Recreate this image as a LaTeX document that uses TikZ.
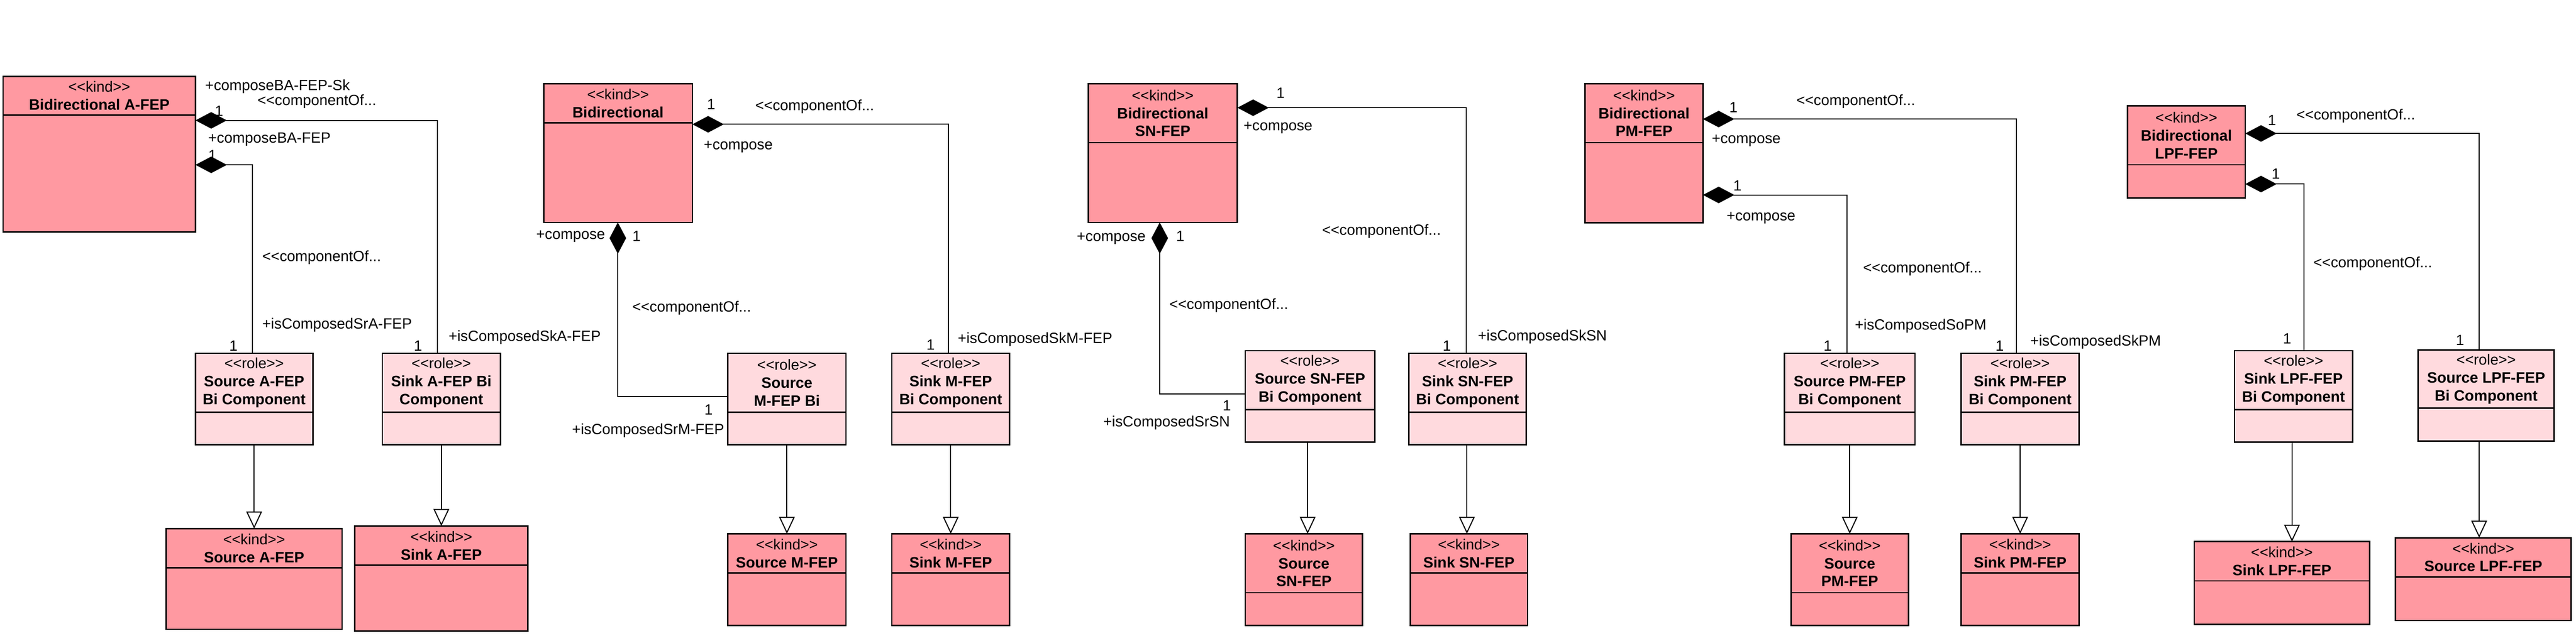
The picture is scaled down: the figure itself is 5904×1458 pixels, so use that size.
\documentclass[tikz,border=0pt]{standalone}
\usepackage{fontspec}
\setmainfont{Liberation Sans}[Ligatures=TeXOff]
\usetikzlibrary{arrows.meta}
\definecolor{kindfill}{RGB}{255,153,161}
\definecolor{rolefill}{RGB}{255,218,222}
\newcommand\bt[1]{{\fontsize{34.5}{41}\selectfont\bfseries #1}}
% #1 name, #2 x1, #3 y1, #4 x2, #5 y2, #6 header y, #7 style, #8 text
\newcommand\umlbox[8]{%
  \node[#7, anchor=north west, minimum width={(#4-#2)*1pt}, minimum height={(#5-#3)*1pt}] (#1) at (#2,#3) {};
  \draw[boxline] (#1.west |- 0,#6) -- (#1.east |- 0,#6);
  \node[boxtext] (#1-t) at ({(#2+#4)/2},{(#3+#6)/2}) {#8};
}
\begin{document}
\begin{tikzpicture}[x=1pt,y=-1pt,
  boxline/.style={line width=3.2pt, black},
  kindbox/.style={draw=black, line width=3.2pt, fill=kindfill, outer sep=0pt, inner sep=0pt},
  rolebox/.style={draw=black, line width=3.2pt, fill=rolefill, outer sep=0pt, inner sep=0pt},
  boxtext/.style={align=center, inner sep=0pt, font=\fontsize{34}{41}\selectfont},
  lbl/.style={inner sep=0pt, font=\fontsize{34}{40}\selectfont},
  conn/.style={line width=2.4pt, black},
  comp/.style={conn, arrows={Diamond[length=72pt,width=38pt]-}},
  gen/.style={conn, arrows={-Triangle[open,length=39pt,width=36pt,fill=white]}}
]
\fill[white] (0,0) rectangle (5904,1458);
\useasboundingbox (0,0) rectangle (5904,1458);

% ---------------- Group 1: A-FEP ----------------
\umlbox{bidirA}{7}{175}{448}{532}{264}{kindbox}{<<kind>>\\\bt{Bidirectional A-FEP}}
\umlbox{roleSrA}{448}{810}{717}{1020}{945}{rolebox}{<<role>>\\\bt{Source A-FEP}\\\bt{Bi Component}}
\umlbox{roleSkA}{876}{810}{1147}{1020}{945}{rolebox}{<<role>>\\\bt{Sink A-FEP Bi}\\\bt{Component}}
\umlbox{kindSrA}{381}{1212}{784}{1443}{1302}{kindbox}{<<kind>>\\\bt{Source A-FEP}}
\umlbox{kindSkA}{813}{1206}{1210}{1447}{1296}{kindbox}{<<kind>>\\\bt{Sink A-FEP}}
\draw[comp] (bidirA.east |- 0,276) -| (roleSkA.north -| 1002,0);
\draw[comp] (bidirA.east |- 0,378) -| (roleSrA.north -| 579,0);
\draw[gen] (roleSrA.south) -- (kindSrA.north);
\draw[gen] (roleSkA.south) -- (kindSkA.north);
\node[lbl, anchor=west] (a1) at (470,199) {+composeBA-FEP-Sk};
\node[lbl, anchor=west] (a2) at (590,233) {<<componentOf...};
\node[lbl] (a3) at (502,254) {1};
\node[lbl, anchor=west] (a4) at (477,319) {+composeBA-FEP};
\node[lbl] (a5) at (487,356) {1};
\node[lbl, anchor=west] (a6) at (601,590) {<<componentOf...};
\node[lbl, anchor=west] (a7) at (601,745) {+isComposedSrA-FEP};
\node[lbl] (a8) at (535,793) {1};
\node[lbl, anchor=west] (a9) at (1028,773) {+isComposedSkA-FEP};
\node[lbl] (a10) at (958,793) {1};

% ---------------- Group 2: M-FEP ----------------
\umlbox{bidirM}{1246}{192}{1587}{510}{282}{kindbox}{<<kind>>\\\bt{Bidirectional}}
\umlbox{roleSrM}{1668}{810}{1939}{1020}{945}{rolebox}{<<role>>\\\bt{Source}\\\bt{M-FEP Bi}}
\umlbox{roleSkM}{2044}{810}{2314}{1020}{945}{rolebox}{<<role>>\\\bt{Sink M-FEP}\\\bt{Bi Component}}
\umlbox{kindSrM}{1668}{1224}{1939}{1434}{1314}{kindbox}{<<kind>>\\\bt{Source M-FEP}}
\umlbox{kindSkM}{2044}{1224}{2314}{1434}{1314}{kindbox}{<<kind>>\\\bt{Sink M-FEP}}
\draw[comp] (bidirM.east |- 0,285) -| (roleSkM.north -| 2174,0);
\draw[comp] (bidirM.south -| 1416,0) |- (roleSrM.west |- 0,909);
\draw[gen] (roleSrM.south) -- (kindSrM.north);
\draw[gen] (roleSkM.south) -- (kindSkM.north);
\node[lbl] (m1) at (1630,239) {1};
\node[lbl, anchor=west] (m2) at (1731,245) {<<componentOf...};
\node[lbl, anchor=west] (m3) at (1613,337) {+compose};
\node[lbl, anchor=east] (m4) at (1387,542) {+compose};
\node[lbl] (m5) at (1459,542) {1};
\node[lbl, anchor=west] (m6) at (1449,706) {<<componentOf...};
\node[lbl] (m7) at (1624,939) {1};
\node[lbl, anchor=east] (m8) at (1660,987) {+isComposedSrM-FEP};
\node[lbl] (m9) at (2133,791) {1};
\node[lbl, anchor=west] (m10) at (2195,778) {+isComposedSkM-FEP};

% ---------------- Group 3: SN-FEP ----------------
\umlbox{bidirSN}{2494}{192}{2836}{510}{327}{kindbox}{<<kind>>\\\bt{Bidirectional}\\\bt{SN-FEP}}
\umlbox{roleSrSN}{2854}{804}{3151}{1014}{939}{rolebox}{<<role>>\\\bt{Source SN-FEP}\\\bt{Bi Component}}
\umlbox{roleSkSN}{3229}{810}{3498}{1020}{945}{rolebox}{<<role>>\\\bt{Sink SN-FEP}\\\bt{Bi Component}}
\umlbox{kindSrSN}{2854}{1224}{3123}{1434}{1359}{kindbox}{<<kind>>\\\bt{Source}\\\bt{SN-FEP}}
\umlbox{kindSkSN}{3232}{1224}{3501}{1434}{1314}{kindbox}{<<kind>>\\\bt{Sink SN-FEP}}
\draw[comp] (bidirSN.east |- 0,247) -| (roleSkSN.north -| 3360,0);
\draw[comp] (bidirSN.south -| 2658,0) |- (roleSrSN.west |- 0,903);
\draw[gen] (roleSrSN.south -| 2997,0) -- (kindSrSN.north -| 2997,0);
\draw[gen] (roleSkSN.south -| 3362,0) -- (kindSkSN.north -| 3362,0);
\node[lbl] (s1) at (2935,213) {1};
\node[lbl, anchor=west] (s2) at (2850,293) {+compose};
\node[lbl, anchor=west] (s3) at (3030,530) {<<componentOf...};
\node[lbl, anchor=east] (s4) at (2626,547) {+compose};
\node[lbl] (s5) at (2705,541) {1};
\node[lbl, anchor=west] (s6) at (2680,700) {<<componentOf...};
\node[lbl, anchor=west] (s7) at (3387,772) {+isComposedSkSN};
\node[lbl] (s8) at (3316,793) {1};
\node[lbl] (s9) at (2812,930) {1};
\node[lbl, anchor=east] (s10) at (2819,970) {+isComposedSrSN};

% ---------------- Group 4: PM-FEP ----------------
\umlbox{bidirPM}{3633}{192}{3903}{511}{327}{kindbox}{<<kind>>\\\bt{Bidirectional}\\\bt{PM-FEP}}
\umlbox{roleSrPM}{4090}{810}{4389}{1020}{945}{rolebox}{<<role>>\\\bt{Source PM-FEP}\\\bt{Bi Component}}
\umlbox{roleSkPM}{4495}{810}{4765}{1020}{945}{rolebox}{<<role>>\\\bt{Sink PM-FEP}\\\bt{Bi Component}}
\umlbox{kindSrPM}{4105}{1224}{4374}{1434}{1359}{kindbox}{<<kind>>\\\bt{Source}\\\bt{PM-FEP}}
\umlbox{kindSkPM}{4495}{1224}{4765}{1434}{1314}{kindbox}{<<kind>>\\\bt{Sink PM-FEP}}
\draw[comp] (bidirPM.east |- 0,273) -| (roleSkPM.north -| 4622,0);
\draw[comp] (bidirPM.east |- 0,447) -| (roleSrPM.north -| 4233,0);
\draw[gen] (roleSrPM.south) -- (kindSrPM.north);
\draw[gen] (roleSkPM.south) -- (kindSkPM.north);
\node[lbl] (p1) at (3973,246) {1};
\node[lbl, anchor=west] (p2) at (4117,233) {<<componentOf...};
\node[lbl, anchor=west] (p3) at (3923,323) {+compose};
\node[lbl] (p4) at (3982,426) {1};
\node[lbl, anchor=west] (p5) at (3957,500) {+compose};
\node[lbl, anchor=west] (p6) at (4270,616) {<<componentOf...};
\node[lbl, anchor=west] (p7) at (4251,747) {+isComposedSoPM};
\node[lbl] (p8) at (4189,793) {1};
\node[lbl] (p9) at (4583,793) {1};
\node[lbl, anchor=west] (p10) at (4653,784) {+isComposedSkPM};

% ---------------- Group 5: LPF-FEP ----------------
\umlbox{bidirLPF}{4876}{243}{5146}{454}{378}{kindbox}{<<kind>>\\\bt{Bidirectional}\\\bt{LPF-FEP}}
\umlbox{roleSkLPF}{5121}{804}{5392}{1014}{939}{rolebox}{<<role>>\\\bt{Sink LPF-FEP}\\\bt{Bi Component}}
\umlbox{roleSrLPF}{5542}{802}{5854}{1011}{936}{rolebox}{<<role>>\\\bt{Source LPF-FEP}\\\bt{Bi Component}}
\umlbox{kindSkLPF}{5029}{1242}{5431}{1432}{1332}{kindbox}{<<kind>>\\\bt{Sink LPF-FEP}}
\umlbox{kindSrLPF}{5490}{1233}{5893}{1423}{1323}{kindbox}{<<kind>>\\\bt{Source LPF-FEP}}
\draw[comp] (bidirLPF.east |- 0,306) -| (roleSrLPF.north -| 5682,0);
\draw[comp] (bidirLPF.east |- 0,422) -| (roleSkLPF.north -| 5280,0);
\draw[gen] (roleSkLPF.south -| 5253,0) -- (kindSkLPF.north -| 5253,0);
\draw[gen] (roleSrLPF.south -| 5682,0) -- (kindSrLPF.north -| 5682,0);
\node[lbl] (l1) at (5207,276) {1};
\node[lbl, anchor=west] (l2) at (5263,266) {<<componentOf...};
\node[lbl] (l3) at (5216,399) {1};
\node[lbl, anchor=west] (l4) at (5302,605) {<<componentOf...};
\node[lbl] (l5) at (5242,777) {1};
\node[lbl] (l6) at (5638,780) {1};
\end{tikzpicture}
\end{document}
